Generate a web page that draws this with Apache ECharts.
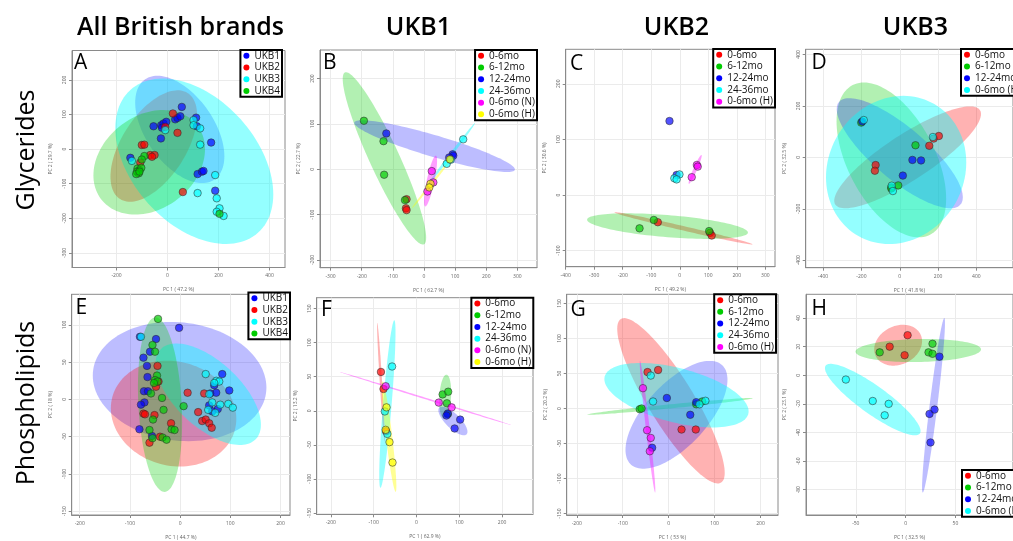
<!DOCTYPE html>
<html><head><meta charset="utf-8">
<script src="https://cdn.jsdelivr.net/npm/echarts@6.0.0/dist/echarts.min.js"></script>
<style>html,body{margin:0;padding:0;background:#fff}#c{width:1013px;height:541px}</style>
</head><body><div id="c"></div>
<script>
// ---------------- DATA ----------------
const COL_TITLES = ['All British brands', 'UKB1', 'UKB2', 'UKB3'];
const ROW_TITLES = ['Glycerides', 'Phospholipids'];
const BRAND_NAMES = ['UKB1', 'UKB2', 'UKB3', 'UKB4'];
const AGE6_NAMES = ['0-6mo', '6-12mo', '12-24mo', '24-36mo', '0-6mo (N)', '0-6mo (H)'];
const AGE5_NAMES = ['0-6mo', '6-12mo', '12-24mo', '24-36mo', '0-6mo (H)'];
const AGE4_NAMES = ['0-6mo', '6-12mo', '12-24mo', '0-6mo (H)'];

// ellipse = [centre x, centre y, half-extent x, half-extent y, correlation]
// Panel A
const A_UKB1 = [[56,122],[-55,66],[-25,69],[-16,74],[-5,79],[-22,62],[30,86],[39,90],[50,95],[-26,31],[112,91],[115,66],[171,19],[118,-72],[135,-65],[141,-63],[187,-120],[-146,-25]];
const A_UKB2 = [[21,103],[39,47],[-101,12],[-91,13],[-68,-17],[-51,-17],[-61,-22],[-107,-39],[60,-124],[-9,64]];
const A_UKB3 = [[-9,55],[102,84],[102,69],[128,60],[128,13],[-140,-34],[187,-75],[118,-127],[193,-142],[204,-171],[193,-181],[220,-193]];
const A_UKB4 = [[-91,-20],[-101,-30],[-118,-56],[-110,-61],[-120,-65],[-103,-54],[-113,-70],[-123,-72],[-110,-65],[204,-187]];
const A_ELL = [[48,57,175,155,-0.5],[-54,9,170,161,0.55],[105,-35,310,239,-0.4],[-72,-38,219,151,0.25]];
const A_XTICKS = [-200,0,200,400];
const A_YTICKS = [-300,-200,-100,0,100,200];
const A_AXNAMES = ['PC 1 ( 47.2 %)', 'PC 2 ( 29.7 %)'];
const A_RANGE = [-375,461,-342,285];

// Panel B
const B_06 = [[-56,-66],[-58,-86],[-56,-90]];
const B_612 = [[-193,107],[-130,62],[-128,-12],[-61,-68]];
const B_1224 = [[-121,79],[92,33],[94,30],[81,26]];
const B_2436 = [[126,66],[73,12],[86,21]];
const B_N = [[25,-4],[30,-29],[11,-49]];
const B_H = [[83,22],[21,-32],[17,-40]];
const B_ELL = [null,[-127,24,134,190,-0.92],[34,51,258,57,-0.9],[86,32,78,70,0.997],[21,-26,21,56,0.8],[25,-31,64,55,0.997]];
const B_XTICKS = [-300,-200,-100,0,100,200,300];
const B_YTICKS = [-200,-100,0,100,200];
const B_AXNAMES = ['PC 1 ( 62.7 %)', 'PC 2 ( 22.7 %)'];
const B_RANGE = [-334,363,-217,263];

// Panel C
const C_06 = [[-77,-49],[106,-68],[112,-73]];
const C_612 = [[-91,-45],[-141,-60],[103,-65]];
const C_1224 = [[-36,133],[-11,36]];
const C_2436 = [[-1,37],[-19,30],[-11,28]];
const C_H = [[60,54],[63,51],[42,32]];
const C_ELL = [[13,-60,242,29,-0.99],[-43,-56,282,23,-0.5],null,null,[54,46,23,26,0.95]];
const C_XTICKS = [-400,-300,-200,-100,0,100,200,300];
const C_YTICKS = [-100,0,100,200];
const C_AXNAMES = ['PC 1 ( 49.2 %)', 'PC 2 ( 30.6 %)'];
const C_RANGE = [-400,334,-129,262];

// Panel D
const D_06 = [[177,73],[204,83],[154,45],[-126,-30],[-130,-52]];
const D_612 = [[-201,135],[82,47],[-8,-109],[-44,-117],[-44,-121]];
const D_1224 = [[-196,139],[66,-10],[111,-12],[16,-71]];
const D_H = [[-188,145],[173,79],[-42,-110],[-36,-131]];
const D_ELL = [[41,0,383,198,0.85],[-44,-10,286,301,-0.5],[0,16,329,214,-0.8],[-19,-49,366,288,0.1]];
const D_XTICKS = [-400,-200,0,200,400];
const D_YTICKS = [-400,-200,0,200,400];
const D_AXNAMES = ['PC 1 ( 41.8 %)', 'PC 2 ( 32.5 %)'];
const D_RANGE = [-491,591,-429,420];

// Panel E
const E_UKB1 = [[-2,96],[-80,84],[-48,81],[-73,56],[-60,64],[-66,45],[-65,30],[-72,11],[-64,11],[-71,-4],[-78,-7],[-81,-40],[84,34],[98,12],[68,19],[72,9],[60,8],[58,-8],[75,-13],[64,-16],[-56,-49]];
const E_UKB2 = [[-45,45],[-48,17],[-43,24],[-73,-19],[-70,-20],[-51,-21],[15,9],[36,-17],[44,-29],[51,-27],[58,-32],[63,-38],[-18,-32],[-61,-58],[-40,-50],[48,8]];
const E_UKB3 = [[-78,84],[51,34],[72,25],[78,24],[68,22],[80,-7],[96,-6],[105,-11],[56,-14],[64,-4],[70,-18],[58,7]];
const E_UKB4 = [[-44,108],[-55,73],[-50,64],[-46,32],[-50,26],[-45,24],[-58,8],[-36,2],[-33,-14],[-54,-27],[-61,-41],[-55,-52],[-35,-51],[-27,-54],[-17,-40],[-11,-41],[7,-9],[-52,22]];
const E_ELL = [[-1,24,173,80,-0.1],[-13,-19,125,71,-0.1],[56,7,105,68,-0.6],[-40,-7,44,117,-0.2]];
const E_XTICKS = [-200,-100,0,100,200];
const E_YTICKS = [-150,-100,-50,0,50,100];
const E_AXNAMES = ['PC 1 ( 44.7 %)', 'PC 2 ( 18 %)'];
const E_RANGE = [-216,219,-155,141];

// Panel F
const F_06 = [[-83,57],[-77,32],[-71,-30]];
const F_612 = [[61,24],[74,28],[71,11],[73,-5]];
const F_1224 = [[73,-4],[70,-7],[102,-13],[89,-26]];
const F_2436 = [[-57,65],[-74,-1],[-68,-34]];
const F_N = [[-72,36],[52,12],[82,5]];
const F_H = [[-70,5],[-72,-28],[-63,-46],[-56,-76]];
const F_ELL = [[-83,42,9,87,-0.95],[67,21,14,32,0.2],[85,-15,34,21,-0.75],[-68,10,19,123,0.85],[21,18,200,39,-0.9995],[-64,-38,17,81,-0.9]];
const F_XTICKS = [-200,-100,0,100,200];
const F_YTICKS = [-150,-100,-50,0,50,100,150];
const F_AXNAMES = ['PC 1 ( 62.9 %)', 'PC 2 ( 13.2 %)'];
const F_RANGE = [-233,272,-152,166];

// Panel G
const G_06 = [[-46,52],[-23,55],[28,-30],[59,-30]];
const G_612 = [[-63,-1],[-59,0],[60,6],[73,10]];
const G_1224 = [[-4,15],[60,9],[47,-9],[-36,-56]];
const G_2436 = [[-39,47],[-34,10],[80,11],[67,6]];
const G_H = [[-56,29],[-47,-31],[-39,-42],[-41,-61]];
const G_ELL = [[5,11,117,118,-0.87],[3,3,180,12,0.97],[17,-9,111,77,0.65],[17,19,157,46,-0.5],[-46,-26,17,94,-0.97]];
const G_XTICKS = [-200,-100,0,100,200];
const G_YTICKS = [-150,-100,-50,0,50,100,150];
const G_AXNAMES = ['PC 1 ( 53 %)', 'PC 2 ( 20.2 %)'];
const G_RANGE = [-222,238,-152,163];

// Panel H
const H_06 = [[2,28],[-16,20],[-1,14]];
const H_612 = [[-26,16],[27,22],[23,16],[27,15]];
const H_1224 = [[34,13],[24,-27],[29,-24],[25,-47]];
const H_H = [[-60,-3],[-33,-18],[-17,-20],[-21,-28]];
const H_ELL = [[-7.5,21,24,14.3,0.2],[12.7,17.3,63,8.1,0.1],[28,-21,11.5,61,0.94],[-33,-17,48,25,-0.88]];
const H_XTICKS = [-50,0,50];
const H_YTICKS = [-80,-60,-40,-20,0,20,40];
const H_AXNAMES = ['PC 1 ( 32.5 %)', 'PC 2 ( 23.1 %)'];
const H_RANGE = [-100,107.8,-97.7,56.6];

// ---------------- STYLE / LAYOUT ----------------
const COLORS = {red:'#ff0000', green:'#00cc00', blue:'#0000ff', cyan:'#00ffff', magenta:'#ff00ff', yellow:'#ffff00'};
const ELL_ALPHA = {red:0.3, green:0.3, blue:0.26, cyan:0.42, magenta:0.38, yellow:0.42};
const FONT = '"Open Sans", "Noto Sans", sans-serif';

const PANELS = [
  {id:'A', names:BRAND_NAMES, pts:[A_UKB1,A_UKB2,A_UKB3,A_UKB4], ell:A_ELL, cols:['blue','red','cyan','green'], range:A_RANGE, xt:A_XTICKS, yt:A_YTICKS, ax:A_AXNAMES, box:[72,50.5,213,217], leg:{right:731, top:50}, letter:[74,52.5]},
  {id:'B', names:AGE6_NAMES, pts:[B_06,B_612,B_1224,B_2436,B_N,B_H], ell:B_ELL, cols:['red','green','blue','cyan','magenta','yellow'], range:B_RANGE, xt:B_XTICKS, yt:B_YTICKS, ax:B_AXNAMES, box:[320,50,217,217.7], leg:{right:476, top:50}, letter:[323,52.5]},
  {id:'C', names:AGE5_NAMES, pts:[C_06,C_612,C_1224,C_2436,C_H], ell:C_ELL, cols:['red','green','blue','cyan','magenta'], range:C_RANGE, xt:C_XTICKS, yt:C_YTICKS, ax:C_AXNAMES, box:[565.7,49.3,209.3,217.4], leg:{right:238, top:49}, letter:[570,53.5]},
  {id:'D', names:AGE4_NAMES, pts:[D_06,D_612,D_1224,D_H], ell:D_ELL, cols:['red','green','blue','cyan'], range:D_RANGE, xt:D_XTICKS, yt:D_YTICKS, ax:D_AXNAMES, box:[805.7,49.3,230,218.4], leg:{left:961, top:49}, letter:[811.5,52.5]},
  {id:'E', names:BRAND_NAMES, pts:[E_UKB1,E_UKB2,E_UKB3,E_UKB4], ell:E_ELL, cols:['blue','red','cyan','green'], range:E_RANGE, xt:E_XTICKS, yt:E_YTICKS, ax:E_AXNAMES, box:[71.7,294.3,218.3,220.7], leg:{right:723, top:292.5}, letter:[75.5,297.5]},
  {id:'F', names:AGE6_NAMES, pts:[F_06,F_612,F_1224,F_2436,F_N,F_H], ell:F_ELL, cols:['red','green','blue','cyan','magenta','yellow'], range:F_RANGE, xt:F_XTICKS, yt:F_YTICKS, ax:F_AXNAMES, box:[316.7,297.7,216.3,216.6], leg:{right:479.7, top:297.7}, letter:[321,299.3]},
  {id:'G', names:AGE5_NAMES, pts:[G_06,G_612,G_1224,G_2436,G_H], ell:G_ELL, cols:['red','green','blue','cyan','magenta'], range:G_RANGE, xt:G_XTICKS, yt:G_YTICKS, ax:G_AXNAMES, box:[566.7,294.3,211.3,221.4], leg:{right:237, top:294.3}, letter:[570.5,299.3]},
  {id:'H', names:AGE4_NAMES, pts:[H_06,H_612,H_1224,H_H], ell:H_ELL, cols:['red','green','blue','cyan'], range:H_RANGE, xt:H_XTICKS, yt:H_YTICKS, ax:H_AXNAMES, box:[806,294.3,230,223], leg:{left:962, top:470}, letter:[811.5,298.5]}
];

function ellipseRenderer(fill, alpha) {
  return function (params, api) {
    const cx = api.value(0), cy = api.value(1), rx = api.value(2), ry = api.value(3), r = api.value(4);
    const s = Math.sqrt(Math.max(0, 1 - r * r));
    const pts = [];
    const N = 120;
    for (let i = 0; i < N; i++) {
      const t = i / N * Math.PI * 2;
      pts.push(api.coord([cx + rx * Math.cos(t), cy + ry * (r * Math.cos(t) + s * Math.sin(t))]));
    }
    return {type: 'polygon', shape: {points: pts}, style: {fill: fill, opacity: alpha, stroke: null}};
  };
}

const option = {animation: false, backgroundColor: '#ffffff', grid: [], xAxis: [], yAxis: [], series: [], legend: [], graphic: []};
const AX_COLOR = '#8a8a8a';
const LBL_COLOR = '#666';

PANELS.forEach(function (p, idx) {
  option.grid.push({left: p.box[0], top: p.box[1], width: p.box[2], height: p.box[3], show: true,
    borderColor: AX_COLOR, borderWidth: 1, backgroundColor: '#fff'});
  option.xAxis.push({gridIndex: idx, type: 'value', min: p.range[0], max: p.range[1],
    name: p.ax[0], nameLocation: 'middle', nameGap: 20, nameTextStyle: {fontSize: 5, color: LBL_COLOR, fontFamily: FONT},
    axisLine: {show: true, onZero: false, lineStyle: {color: AX_COLOR}},
    axisTick: {show: true, length: 3, customValues: p.xt, lineStyle: {color: AX_COLOR}},
    axisLabel: {customValues: p.xt, fontSize: 5, color: LBL_COLOR, margin: 6, fontFamily: FONT},
    splitLine: {show: true, lineStyle: {color: '#ebebeb', width: 1}}});
  option.yAxis.push({gridIndex: idx, type: 'value', min: p.range[2], max: p.range[3],
    name: p.ax[1], nameLocation: 'middle', nameGap: 19, nameRotate: 90, nameTextStyle: {fontSize: 5, color: LBL_COLOR, fontFamily: FONT},
    axisLine: {show: true, onZero: false, lineStyle: {color: AX_COLOR}},
    axisTick: {show: true, length: 3, customValues: p.yt, lineStyle: {color: AX_COLOR}},
    axisLabel: {customValues: p.yt, fontSize: 5, color: LBL_COLOR, margin: 5, rotate: 90, fontFamily: FONT},
    splitLine: {show: true, lineStyle: {color: '#ebebeb', width: 1}}});
  // ellipses first
  p.names.forEach(function (nm, gi) {
    const e = p.ell[gi];
    if (!e) return;
    const c = p.cols[gi];
    option.series.push({type: 'custom', name: p.id + '|' + nm + '|ell', xAxisIndex: idx, yAxisIndex: idx,
      data: [e], renderItem: ellipseRenderer(COLORS[c], ELL_ALPHA[c]), silent: true, z: 1});
  });
  const legData = [];
  p.names.forEach(function (nm, gi) {
    const c = p.cols[gi];
    option.series.push({type: 'scatter', name: p.id + '|' + nm, xAxisIndex: idx, yAxisIndex: idx,
      data: p.pts[gi], symbol: 'circle', symbolSize: 7.5, z: 3,
      itemStyle: {color: COLORS[c], opacity: 0.68, borderColor: '#2a2a2a', borderWidth: 0.8},
      emphasis: {disabled: true}});
    legData.push({name: p.id + '|' + nm, itemStyle: {color: COLORS[c], opacity: 1, borderWidth: 0}});
  });
  const leg = Object.assign({orient: 'vertical', padding: [0, 2, 0, 3], itemGap: 0, itemWidth: 6, itemHeight: 6,
    icon: 'circle', borderColor: '#000', borderWidth: 2, backgroundColor: '#fff', selectedMode: false,
    textStyle: {fontSize: 10, lineHeight: 11.7, color: '#111', fontFamily: FONT},
    formatter: function (n) { return n.split('|')[1]; }, data: legData, z: 10}, p.leg);
  option.legend.push(leg);
  option.graphic.push({type: 'text', x: p.letter[0], y: p.letter[1], z: 20,
    style: {text: p.id, font: '500 21px ' + FONT, fill: '#000', align: 'left', verticalAlign: 'top'}});
});

// column & row titles
const COL_X = [180.5, 418.5, 676.5, 915.5];
COL_TITLES.forEach(function (t, i) {
  option.graphic.push({type: 'text', x: COL_X[i], y: 27.5, z: 20,
    style: {text: t, font: '600 25px ' + FONT, fill: '#000', align: 'center', verticalAlign: 'middle'}});
});
const ROW_Y = [150, 403];
ROW_TITLES.forEach(function (t, i) {
  option.graphic.push({type: 'text', x: 27, y: ROW_Y[i], rotation: Math.PI / 2, z: 20,
    style: {text: t, font: '500 25px ' + FONT, fill: '#000', align: 'center', verticalAlign: 'middle'}});
});

const chart = echarts.init(document.getElementById('c'), null, {renderer: 'canvas'});
chart.setOption(option);
</script></body></html>
